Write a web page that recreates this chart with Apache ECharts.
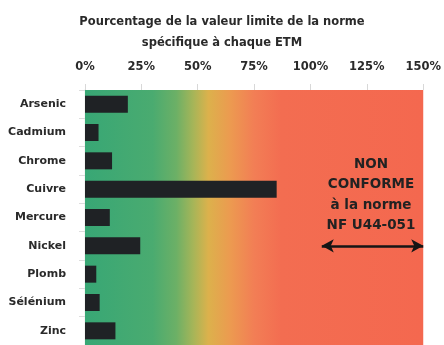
<!DOCTYPE html>
<html>
<head>
<meta charset="utf-8">
<script src="https://cdn.jsdelivr.net/npm/echarts@6/dist/echarts.min.js"></script>
<style>
  html, body { margin: 0; padding: 0; background: #ffffff; }
  #chart { width: 444px; height: 345px; }
</style>
</head>
<body>
<div id="chart"></div>
<script>
// Éléments traces métalliques (ETM)
var categories = ['Arsenic', 'Cadmium', 'Chrome', 'Cuivre', 'Mercure', 'Nickel', 'Plomb', 'Sélénium', 'Zinc'];
// Pourcentage de la valeur limite de la norme pour chaque ETM
var values = [19, 6, 12, 85, 11, 24.5, 5, 6.5, 13.5];
var axisMin = 0;
var axisMax = 150;
var axisStep = 25;
// Zone « non conforme » signalée par la double flèche
var arrowFrom = 105;
var arrowTo = 150;
var arrowRow = 'Nickel';

var font = 'DejaVu Sans';
var ink = '#2a2a2a';

var chart = echarts.init(document.getElementById('chart'), null, { renderer: 'canvas' });

chart.setOption({
  animation: false,
  backgroundColor: '#ffffff',
  title: {
    text: 'Pourcentage de la valeur limite de la norme\nspécifique à chaque ETM',
    left: 'center',
    top: 7,
    textStyle: { fontFamily: font, fontWeight: 'bold', fontSize: 11.5, color: ink, lineHeight: 21 }
  },
  grid: { left: 85, right: 16, top: 90, bottom: 0, containLabel: false },
  xAxis: {
    type: 'value',
    position: 'top',
    min: axisMin,
    max: axisMax,
    interval: axisStep,
    axisLine: { show: false },
    axisTick: { show: true, length: 6, lineStyle: { color: '#d8d8d8', width: 1 } },
    splitLine: { show: false },
    axisLabel: {
      margin: 17,
      formatter: '{value}%',
      fontFamily: font, fontWeight: 'bold', fontSize: 11.5, color: ink
    }
  },
  yAxis: {
    type: 'category',
    data: categories,
    inverse: true,
    axisLine: { show: true, lineStyle: { color: '#f2f5f2', width: 1.5 } },
    axisTick: { show: true, length: 6, lineStyle: { color: '#dddddd' } },
    axisLabel: {
      margin: 19,
      fontFamily: font, fontWeight: 'bold', fontSize: 11, color: ink
    }
  },
  series: [
    {
      // fond dégradé vert → jaune → rouge sur toute l'échelle
      type: 'line',
      data: [],
      z: 1,
      silent: true,
      markArea: {
        silent: true,
        data: [[
          {
            xAxis: axisMin,
            itemStyle: {
              color: {
                type: 'linear', x: 0, y: 0, x2: 1, y2: 0,
                colorStops: [
                  { offset: 0.00, color: '#38a775' },
                  { offset: 0.20, color: '#4aab70' },
                  { offset: 0.27, color: '#6cb066' },
                  { offset: 0.32, color: '#a6b558' },
                  { offset: 0.365, color: '#dcb14c' },
                  { offset: 0.43, color: '#ec9a50' },
                  { offset: 0.50, color: '#f27e55' },
                  { offset: 0.58, color: '#f36d51' },
                  { offset: 1.00, color: '#f4684f' }
                ]
              }
            }
          },
          { xAxis: axisMax }
        ]]
      }
    },
    {
      type: 'bar',
      data: values,
      z: 3,
      barWidth: 17,
      itemStyle: { color: '#1f2225' },
      markLine: {
        silent: true,
        symbol: ['arrow', 'arrow'],
        symbolSize: [10, 12],
        label: { show: false },
        lineStyle: { color: '#151515', width: 2.5, type: 'solid' },
        data: [[
          { coord: [arrowFrom, arrowRow] },
          { coord: [arrowTo, arrowRow] }
        ]]
      }
    }
  ],
  graphic: [
    {
      type: 'text',
      z: 10,
      x: 371,
      y: 195,
      style: {
        text: 'NON\nCONFORME\nà la norme\nNF U44-051',
        align: 'center',
        verticalAlign: 'middle',
        fontFamily: font,
        fontWeight: 'bold',
        fontSize: 13.5,
        lineHeight: 20.5,
        fill: '#222222'
      }
    }
  ]
});
</script>
</body>
</html>
